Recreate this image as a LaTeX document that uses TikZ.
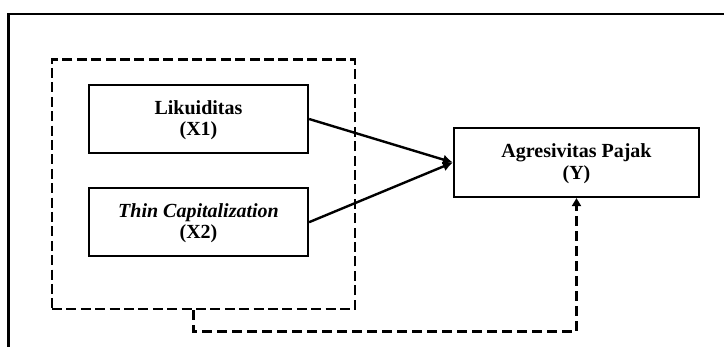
\documentclass[tikz,border=0pt]{standalone}
\usepackage{fontspec}
\setmainfont{Liberation Serif}
\usetikzlibrary{arrows.meta}
\usetikzlibrary{positioning}

\begin{document}
\begin{tikzpicture}[
		x=0.5pt, y=-0.5pt,
		node distance=16.5pt,
		block/.style={draw, line width=1.1pt, minimum height=34pt, minimum width=109.5pt, align=center, text depth=1pt, font=\fontsize{10}{10.8}\selectfont\bfseries},
		group/.style={draw, line width=1.3pt, dash pattern=on 5pt off 2.2pt, minimum width=151.5pt, minimum height=124.75pt},
		arrow/.style={-{Latex[length=5pt,width=5pt]}, line width=1.2pt},
		dasharrow/.style={-{Triangle[length=4pt,width=4.5pt]}, line width=1.2pt, dash pattern=on 5pt off 2.5pt},
	]
	\useasboundingbox (0,0) rectangle (724,347);
	\draw[line width=1.4pt] (8.5,347) -- (8.5,14) -- (724,14);
	
	\node[group] (grp) at (203.5,184.25) {};
	\node[block] (x1) at (198.5,119) {Likuiditas\\(X1)};
	\node[block, below=of x1] (x2) {\textit{Thin Capitalization}\\(X2)};
	\node[block, minimum width=122.5pt, minimum height=34.5pt] (y) at (576.5,162.5) {Agresivitas Pajak\\(Y)};
	\coordinate (turn) at (193.5,331.5);
	
	\draw[arrow] (x1.east) -- (y.west);
	\draw[arrow] (x2.east) -- (y.west);
	\draw[dasharrow] (grp.south -| turn) -- (turn) -| (y.south);
\end{tikzpicture}
\end{document}
